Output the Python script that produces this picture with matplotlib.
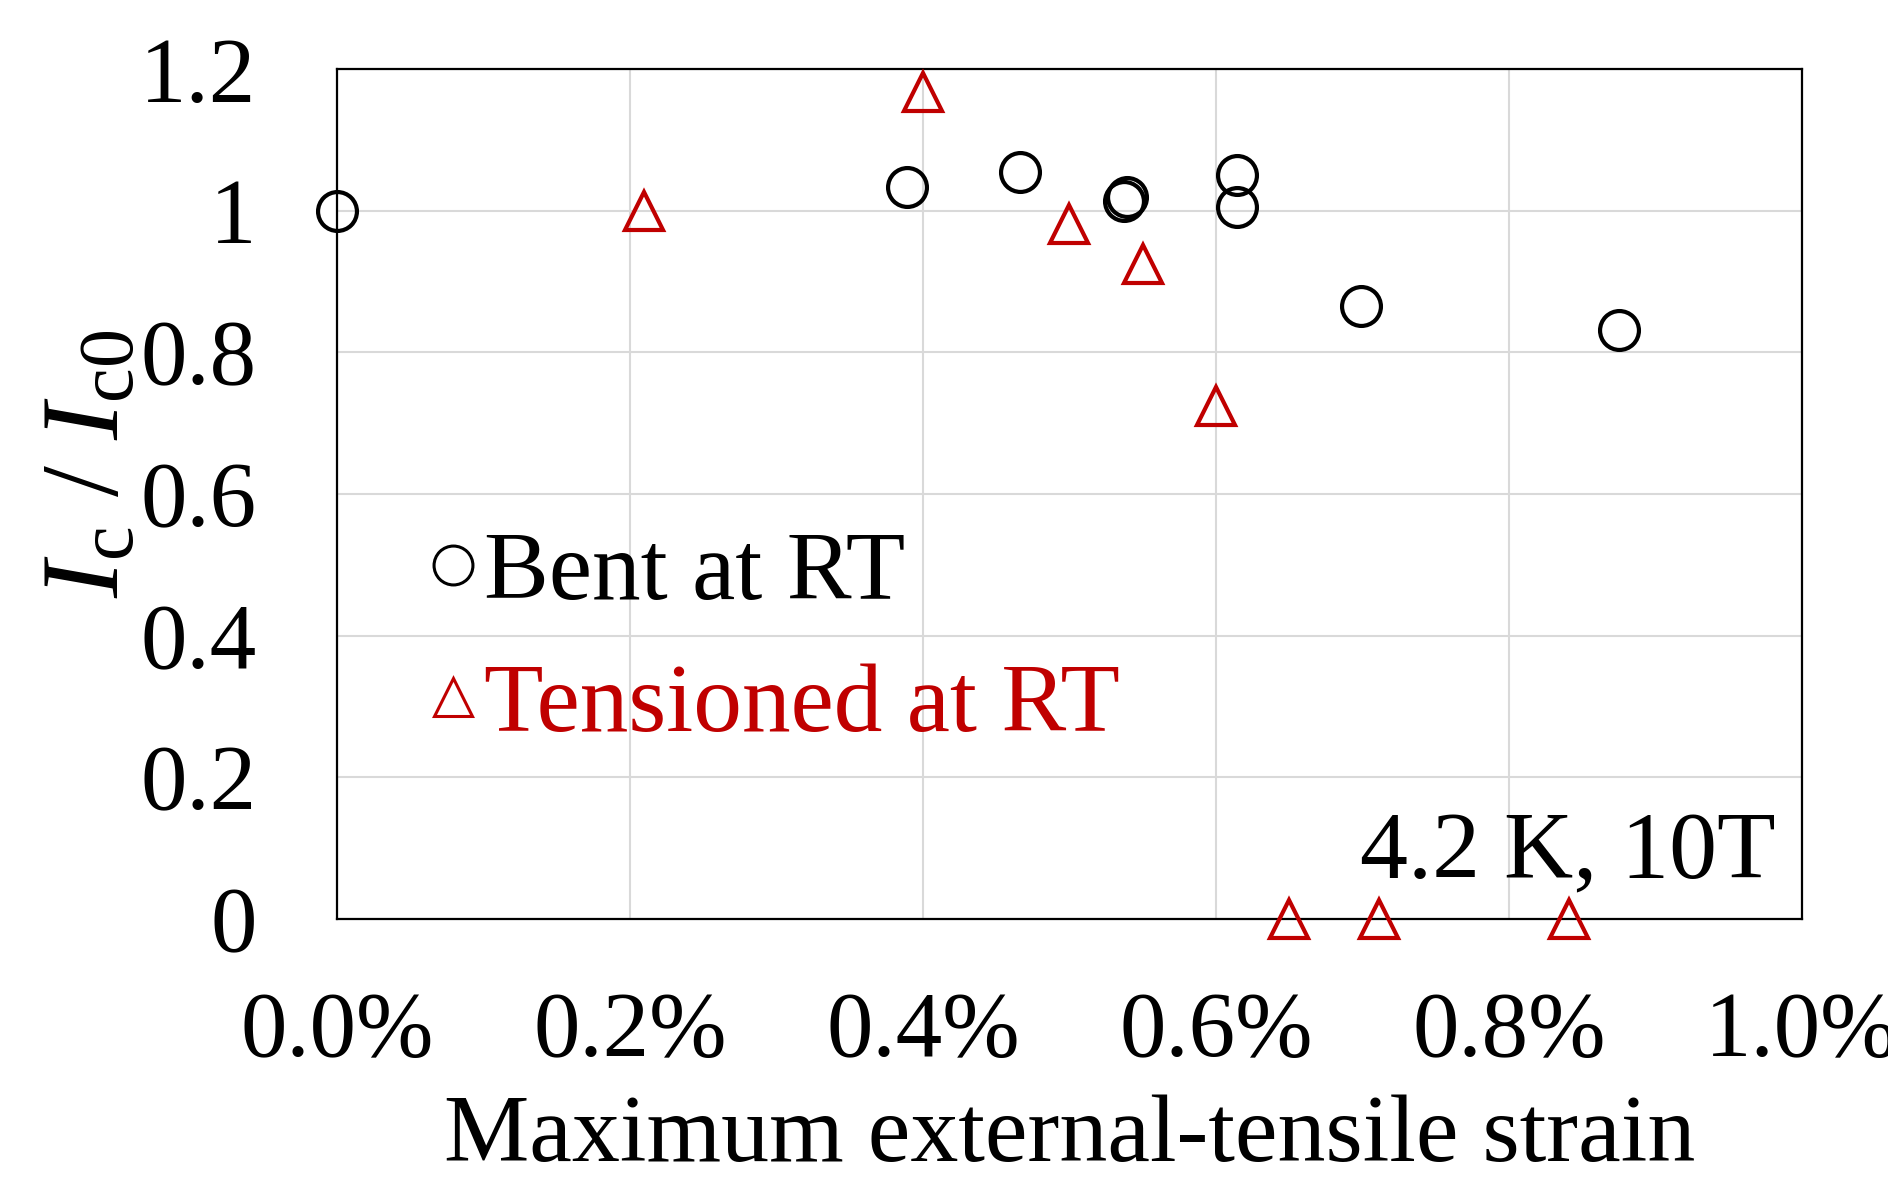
import matplotlib
matplotlib.use("Agg")
import matplotlib.pyplot as plt
from matplotlib.ticker import FuncFormatter

plt.rcParams['font.family'] = ['Liberation Serif', 'DejaVu Serif']
plt.rcParams['mathtext.fontset'] = 'custom'
plt.rcParams['mathtext.rm'] = 'Liberation Serif'
plt.rcParams['mathtext.it'] = 'Liberation Serif:italic'

# Data (strain in %, normalized Ic)
bent_strain = [0.0, 0.389, 0.466, 0.537, 0.539, 0.614, 0.614, 0.699, 0.875]
bent_ic = [1.0, 1.034, 1.054, 1.013, 1.019, 1.051, 1.005, 0.866, 0.832]
tens_strain = [0.2095, 0.400, 0.4995, 0.550, 0.600, 0.650, 0.711, 0.841]
tens_ic = [1.0, 1.167, 0.981, 0.925, 0.724, 0.0, 0.0, 0.0]

x_ticks = [0.0, 0.2, 0.4, 0.6, 0.8, 1.0]
y_ticks = [0, 0.2, 0.4, 0.6, 0.8, 1.0, 1.2]
y_tick_labels = ['0', '0.2', '0.4', '0.6', '0.8', '1', '1.2']

RED = '#C00000'

fig = plt.figure(figsize=(18.88, 11.82), dpi=100)
ax = fig.add_axes([0.1785, 0.2225, 0.9545 - 0.1785, 0.9416 - 0.2225])

ax.plot(bent_strain, bent_ic, linestyle='none', marker='o', markersize=28,
        markerfacecolor='none', markeredgecolor='black', markeredgewidth=3.0,
        clip_on=False, zorder=3, label='Bent at RT')
ax.plot(tens_strain, tens_ic, linestyle='none', marker='^', markersize=27,
        markerfacecolor='none', markeredgecolor=RED, markeredgewidth=3.0,
        clip_on=False, zorder=3, label='Tensioned at RT')

ax.set_xlim(0, 1.0)
ax.set_ylim(0, 1.2)
ax.set_xticks(x_ticks)
ax.set_yticks(y_ticks)
ax.set_yticklabels(y_tick_labels)
ax.xaxis.set_major_formatter(FuncFormatter(lambda v, p: f'{v:.1f}%'))
ax.tick_params(axis='both', length=0, labelsize=67)
ax.tick_params(axis='x', pad=52)
ax.tick_params(axis='y', pad=58)

ax.grid(True, color='#D9D9D9', linewidth=1.5, zorder=0)
ax.set_axisbelow(True)
for s in ax.spines.values():
    s.set_color('black')
    s.set_linewidth(1.6)

ax.set_xlabel('Maximum external-tensile strain', fontsize=69)
ax.xaxis.set_label_coords(0.5, -0.206)
ax.set_ylabel(r'$I_{\mathrm{c}}\ /\ I_{\mathrm{c0}}$', fontsize=80)
ax.yaxis.set_label_coords(-0.133, 0.536)

leg = ax.legend(loc='upper left', bbox_to_anchor=(0.064, 0.457), frameon=False,
                fontsize=70, handlelength=0.45, handletextpad=0.1,
                labelspacing=0.45, borderpad=0, borderaxespad=0,
                markerscale=1.0)
for t, c in zip(leg.get_texts(), ['black', RED]):
    t.set_color(c)
for h in leg.legend_handles:
    h.set_markeredgewidth(2.2)

ax.text(0.9816, 0.048, '4.2 K, 10T', transform=ax.transAxes, ha='right',
        va='baseline', fontsize=69)

fig.savefig('out.png', dpi=100)
